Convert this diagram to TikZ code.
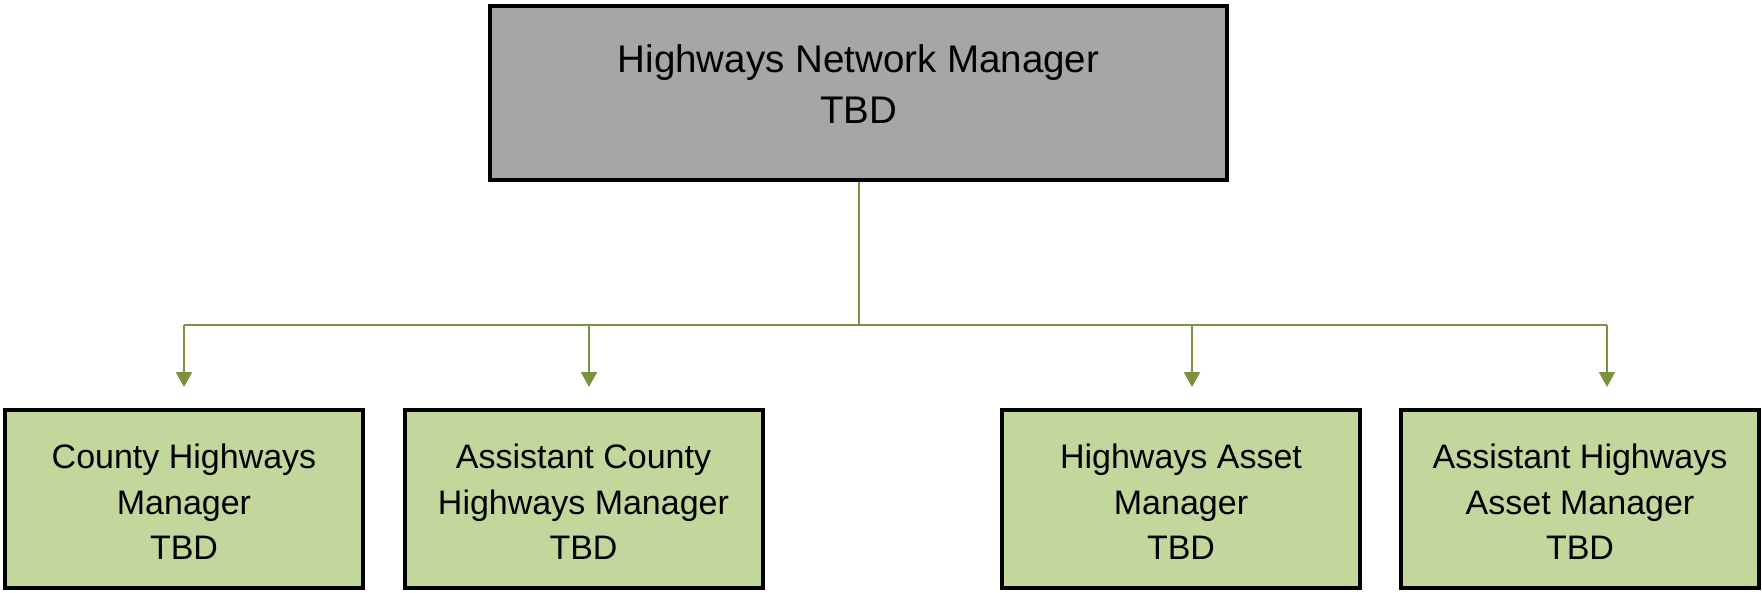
\documentclass[tikz,border=0pt]{standalone}
\usepackage{fontspec}
\setmainfont{Liberation Sans}
\usetikzlibrary{arrows.meta}
\definecolor{boxgreen}{HTML}{C3D69B}
\definecolor{boxgray}{HTML}{A6A6A6}
\definecolor{linegreen}{HTML}{77933C}
\begin{document}
\begin{tikzpicture}[x=1pt,y=-1pt,
  topbox/.style={draw=black,line width=4pt,fill=boxgray,minimum width=737pt,minimum height=174pt,inner sep=0pt},
  toptext/.style={align=center,inner sep=0pt,font=\fontsize{38.5}{51}\selectfont},
  subbox/.style={draw=black,line width=4pt,fill=boxgreen,minimum width=358pt,minimum height=178pt,inner sep=0pt},
  subtext/.style={align=center,inner sep=0pt,font=\fontsize{34}{45.5}\selectfont},
  conn/.style={draw=linegreen,line width=2pt},
  arr/.style={conn,-{Triangle[width=16pt,length=15pt]}}]
\useasboundingbox (0,0) rectangle (1762,592);
\node[topbox] (top) at (858.5,93) {};
\node[toptext] (toptxt) at (858.5,84) {Highways Network Manager\\TBD};
\node[subbox] (b1) at (184,499) {};
\node[subbox] (b2) at (583.5,499) {};
\node[subbox] (b3) at (1181,499) {};
\node[subbox] (b4) at (1580,499) {};
\node[subtext] (l1) at (184,502) {County Highways\\Manager\\TBD};
\node[subtext] (l2) at (583.5,502) {Assistant County\\Highways Manager\\TBD};
\node[subtext] (l3) at (1181,502) {Highways Asset\\Manager\\TBD};
\node[subtext] (l4) at (1580,502) {Assistant Highways\\Asset Manager\\TBD};
\coordinate (hub) at (859,325);
\coordinate (h1) at (184,325);
\coordinate (h2) at (589,325);
\coordinate (h3) at (1192,325);
\coordinate (h4) at (1607,325);
\coordinate (t1) at (184,387);
\coordinate (t2) at (589,387);
\coordinate (t3) at (1192,387);
\coordinate (t4) at (1607,387);
\draw[conn] (top.south -| hub) -- (hub);
\draw[conn] (h1) -- (h4);
\draw[arr] (h1) -- (t1);
\draw[arr] (h2) -- (t2);
\draw[arr] (h3) -- (t3);
\draw[arr] (h4) -- (t4);
\end{tikzpicture}
\end{document}
